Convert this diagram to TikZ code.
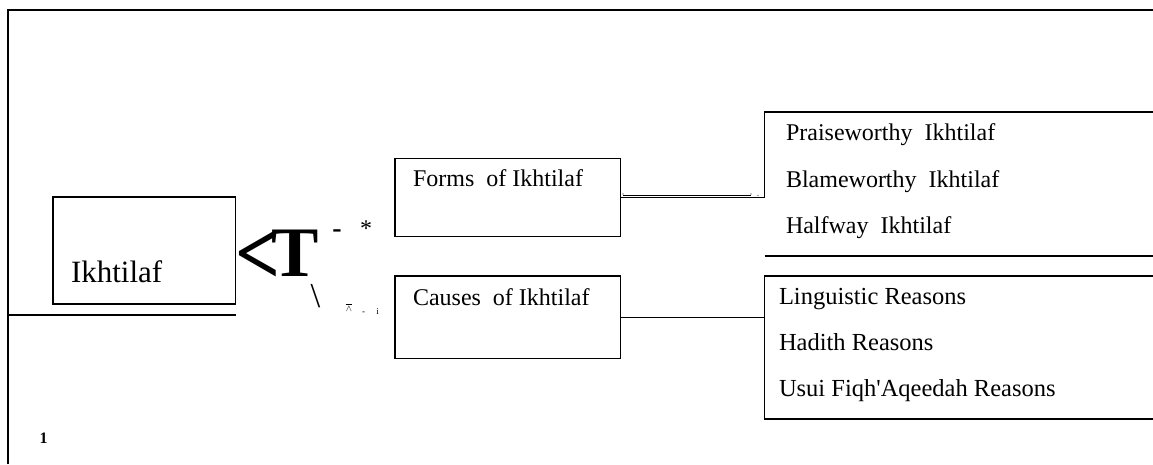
\documentclass[tikz,border=0pt]{standalone}
\usepackage{fontspec}
\setmainfont{Liberation Serif}
\newcommand{\pxfont}[1]{\fontsize{#1}{#1}\selectfont}
\tikzset{
  box/.style={draw=drawColor,line width=1.1pt,inner sep=0pt,outer sep=0pt,anchor=north west},
  txt/.style={text=drawColor,anchor=base west,inner sep=0pt,outer sep=0pt},
  mark txt/.style={text=drawColor,anchor=base,inner sep=0pt,outer sep=0pt},
  rule/.style={draw=drawColor,line width=1.1pt,line join=miter},
}
\begin{document}
\begin{tikzpicture}[x=1pt,y=1pt]
\definecolor{drawColor}{RGB}{0,0,0}
\definecolor{dotColor}{RGB}{150,150,150}
\path[use as bounding box,fill=white] (0,0) rectangle (1153,464);

% page frame
\path[rule] (8,0) -- (8,454) -- (1153,454);
\path[rule] (8,149) -- (236,149);

% boxes
\node[box,minimum width=182.5,minimum height=107] (ikhtilaf) at (53,267) {};
\node[box,minimum width=225.5,minimum height=78] (forms) at (395,305.5) {};
\node[box,minimum width=225.5,minimum height=82.5] (causes) at (395,188) {};

\node[txt,font=\pxfont{31}] (ikhtilaftext) at (71,182) {Ikhtilaf};
\node[txt,font=\pxfont{24}] (formstext) at (413,277) {Forms\ \ of Ikhtilaf};
\node[txt,font=\pxfont{24}] (causestext) at (413,158.5) {Causes\ \ of Ikhtilaf};

% scanned marks
\node[txt,font=\pxfont{93}\bfseries,xscale=0.85] (lessmark) at (235.8,179.5) {<};
\node[txt,font=\pxfont{71}\bfseries] (tmark) at (271.5,188) {T};
\node[mark txt,font=\pxfont{28}\bfseries] (dashmark) at (337,226) {-};
\node[mark txt,font=\pxfont{24}] (starmark) at (366,227) {*};
\node[mark txt,font=\pxfont{35}] (slashmark) at (315.5,157) {\textbackslash};
\node[mark txt,font=\pxfont{9}] (capmark) at (349,153) {$\overline{\wedge}$};
\node[mark txt,font=\pxfont{9}] (dashmarkb) at (363.5,150) {-};
\node[mark txt,font=\pxfont{9}] (imark) at (377.5,150) {i};

% right groups
\coordinate (grpleft) at (764.5,352);
\coordinate (formsend) at (1153,352);
\coordinate (formsfoot) at (764.5,208);
\coordinate (formsfootend) at (1153,208);
\coordinate (causestop) at (1153,188);
\coordinate (causesfoot) at (1153,45);

\path[rule] (forms.east) -- (forms.east -| grpleft) |- (formsend);
\path[draw=drawColor,line width=0.7pt] ([xshift=2.5pt,yshift=2.5pt]forms.east) -- (751,269);
\fill[dotColor] (623,270) circle (0.8) (751,270) circle (0.8) (758,268.5) circle (0.8);
\path[rule] (formsfoot) -- (formsfootend);
\path[rule] (causes.east) -- (causes.east -| grpleft);
\path[rule] (causestop) -| (grpleft |- causesfoot) -- (causesfoot);

\node[txt,font=\pxfont{24}] (praise) at (786,323.3) {Praiseworthy\ \ Ikhtilaf};
\node[txt,font=\pxfont{24}] (blame) at (786,276.7) {Blameworthy\ \ Ikhtilaf};
\node[txt,font=\pxfont{24}] (halfway) at (786,230.7) {Halfway\ \ Ikhtilaf};
\node[txt,font=\pxfont{24.5}] (linguistic) at (779,160) {Linguistic\ Reasons};
\node[txt,font=\pxfont{24.5}] (hadith) at (779,114) {Hadith\ Reasons};
\node[txt,font=\pxfont{24.5}] (usui) at (779,67.3) {Usui Fiqh\textquotesingle Aqeedah Reasons};

\node[mark txt,font=\pxfont{16}\bfseries] (pageno) at (43.5,21) {1};
\end{tikzpicture}
\end{document}
